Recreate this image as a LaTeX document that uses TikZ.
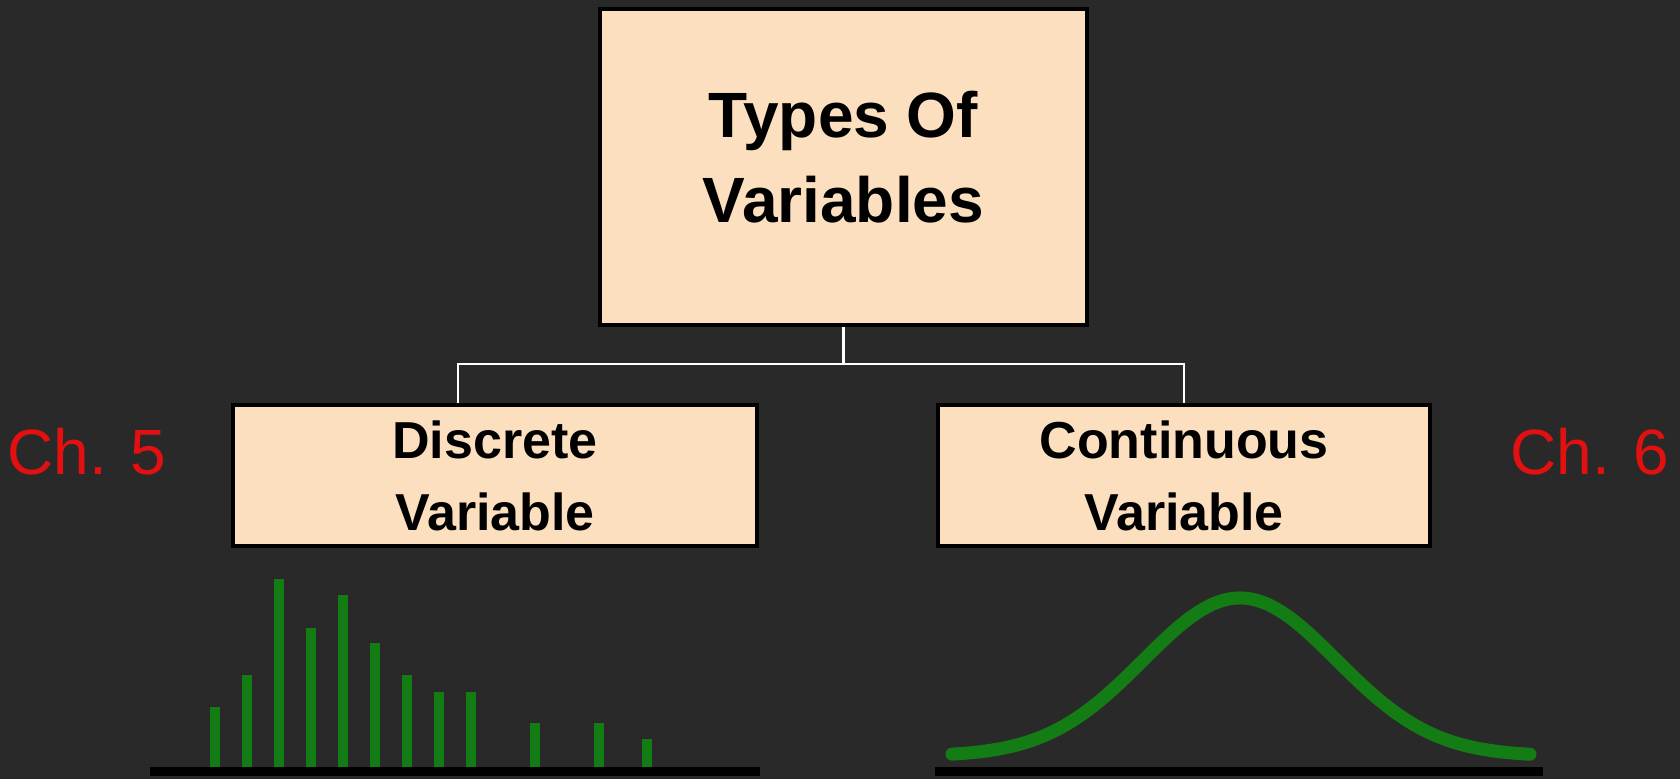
\documentclass[tikz,border=0pt]{standalone}
\usepackage{fontspec}
\setmainfont{Liberation Sans}
\usepackage{tikz}

\definecolor{bgcol}{RGB}{41,41,41}
\definecolor{peach}{RGB}{252,223,190}
\definecolor{chred}{RGB}{226,16,16}
\definecolor{bargreen}{RGB}{20,124,20}

\begin{document}
\begin{tikzpicture}[x=0.5pt,y=-0.5pt,
    box/.style={draw=black, line width=2pt, fill=peach, align=center},
    link/.style={draw=white, line width=1.3pt},
    chap/.style={text=chred, font=\fontsize{32}{38}\selectfont},
    bar/.style={draw=bargreen, line width=5pt},
    axis/.style={draw=black, line width=4.5pt}]
    % Background
    \fill[bgcol] (0,0) rectangle (1680,779);
    \useasboundingbox (0,0) rectangle (1680,779);

    % Boxes
    \node (types) at (843.5,167) [box, minimum width=243.5pt, minimum height=158pt, text depth=10pt,
        font=\bfseries\fontsize{32}{42.5}\selectfont] {Types Of\\Variables};
    \node (discrete) at (495,475.5) [box, minimum width=262pt, minimum height=70.5pt,
        font=\bfseries\fontsize{26}{36}\selectfont] {Discrete\\Variable};
    \node (continuous) at (1184,475.5) [box, minimum width=246pt, minimum height=70.5pt,
        font=\bfseries\fontsize{26}{36}\selectfont] {Continuous\\Variable};

    % Connectors
    \coordinate (split) at (843.5,364);
    \draw[link] (types.south) -- (split);
    \draw[link] (split) -| ([xshift=-18.5pt]discrete.north);
    \draw[link] (split) -| (continuous.north);

    % Chapter labels
    \node (ch5) at (87,452) [chap] {Ch. 5};
    \node (ch6) at (1590,452) [chap] {Ch. 6};

    % Discrete bars
    \foreach \x/\h in {215/707, 247/675, 279/579, 311/628, 343/595, 375/643,
                       407/675, 439/692, 471/692, 535/723, 599/723, 647/739}
        \draw[bar] (\x,768) -- (\x,\h);
    \draw[axis] (150,771) -- (760,771);

    % Continuous curve
    \draw[bargreen, line width=6.5pt, line cap=round, smooth]
        plot[domain=952:1530, samples=90] (\x, {756-158*exp(-((\x-1240)/96.7)^2/2)});
    \draw[axis] (935,771) -- (1543,771);
\end{tikzpicture}
\end{document}
